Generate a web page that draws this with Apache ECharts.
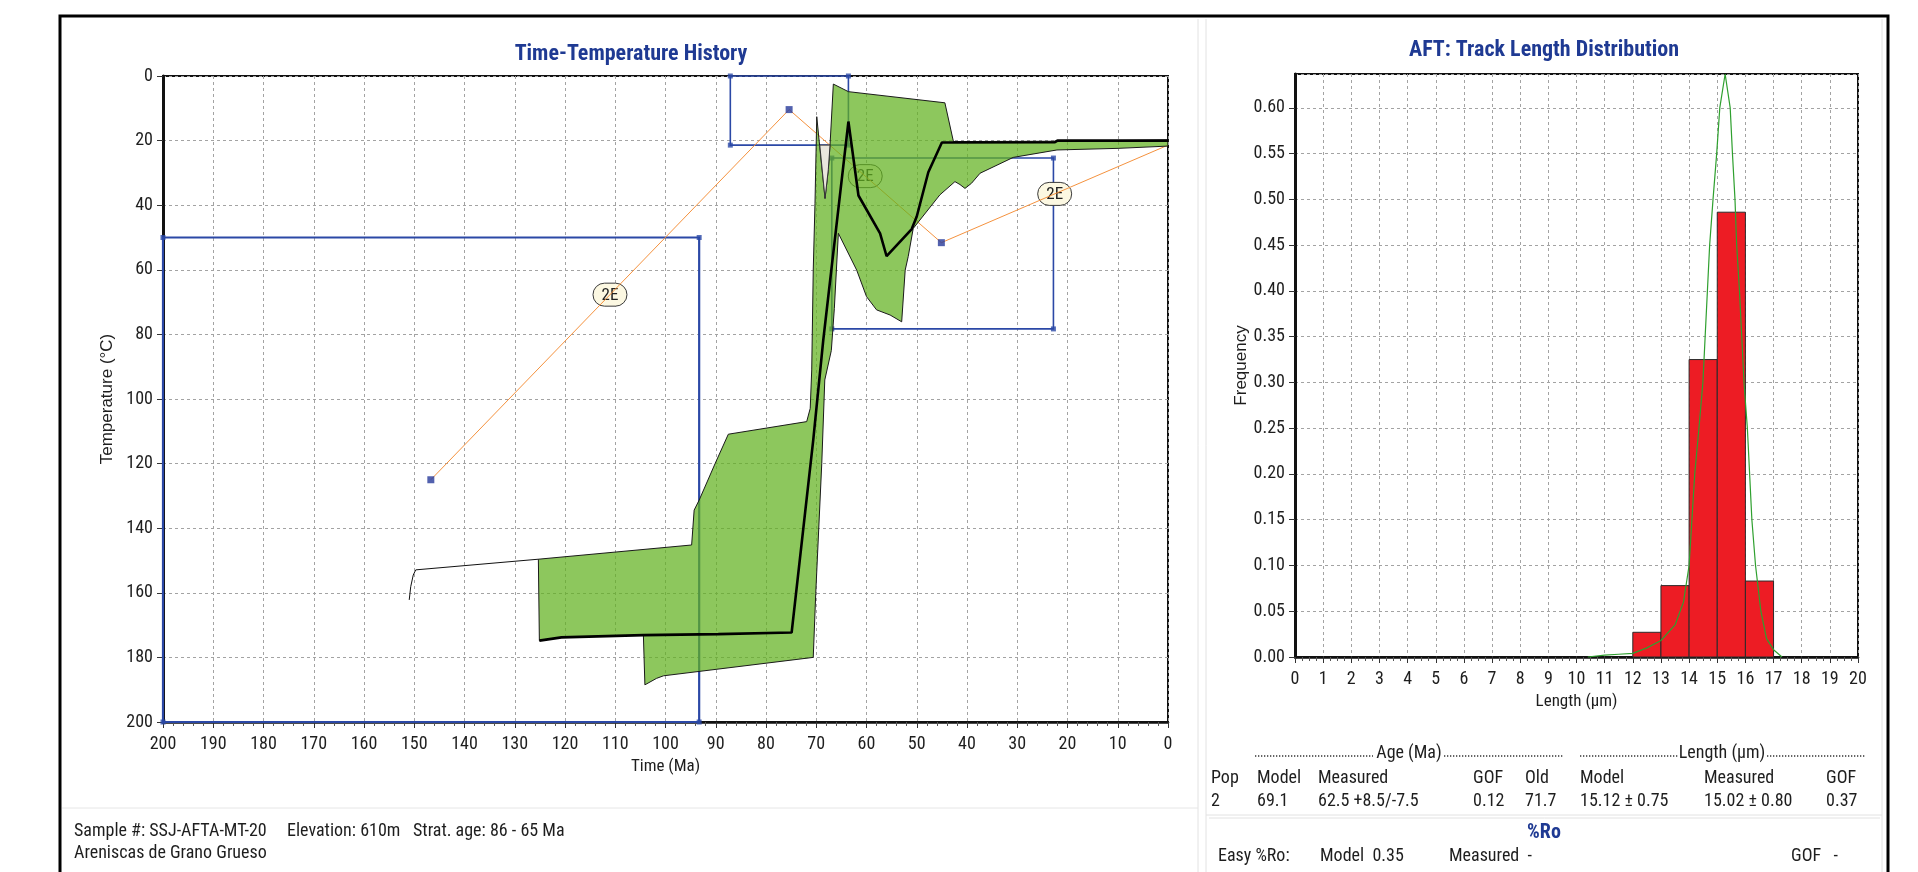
<!DOCTYPE html>
<html><head><meta charset="utf-8">
<script src="https://cdn.jsdelivr.net/npm/echarts@6/dist/echarts.min.js"></script>
<style>html,body{margin:0;padding:0;background:#fff}#c{width:1918px;height:872px}</style>
</head><body><div id="c"></div>
<script>
// ---------------- Time-Temperature History ----------------
// best-fit path (thick black)
const bestTime = [125.1, 120.7, 104.4, 89.5, 74.9, 70.6, 68.6, 63.6, 61.6, 57.3, 56.0, 51.0, 50.0, 47.7, 45.0, 22.5, 22.0, 0];
const bestTemp = [174.8, 173.8, 173.1, 172.8, 172.3, 112.7, 81.7, 14.1, 37.0, 48.7, 55.8, 47.4, 43.5, 29.8, 20.6, 20.5, 20.0, 20.0];
// early thin path
const earlyTime = [151.0, 150.7, 150.2, 149.7, 125.3];
const earlyTemp = [162.2, 158.1, 154.5, 152.9, 149.6];
// acceptable envelope outline (cool edge left->right, hot edge right->left)
const envTime = [125.3, 94.8, 94.3, 93.3, 90.1, 87.5, 71.9, 71.2, 70.9, 70.6, 70.25, 69.9, 69.3, 68.25, 67.6, 67.26, 66.6, 63.6, 44.4, 42.7, 22.5, 0,
                 0, 9.9, 22.1, 30.8, 37.4, 39.1, 40.4, 41.4, 42.4, 45.4, 50.7, 51.7, 52.3, 53.0, 55.3, 58.0, 60.0, 61.95, 65.6, 66.4, 67.0, 68.3, 68.9, 70.1, 70.6, 100.4, 101.8, 104.1, 104.4, 120.7, 125.1];
const envTemp = [149.6, 145.2, 134.4, 131.3, 119.9, 110.9, 107.0, 102.9, 91.0, 60.1, 39.4, 12.6, 22.0, 37.9, 29.0, 21.4, 2.5, 4.85, 8.3, 20.3, 20.2, 19.8,
                 21.7, 22.4, 22.9, 25.2, 30.1, 33.2, 34.8, 33.6, 32.7, 36.8, 47.2, 55.9, 60.1, 76.1, 74.0, 72.4, 68.3, 60.1, 48.7, 72.0, 85.0, 94.1, 119.9, 160.2, 180.0, 185.7, 186.5, 188.5, 173.1, 173.8, 174.8];
// grey notch inside the envelope
const notchTime = [69.3, 68.25, 67.6, 67.26];
const notchTemp = [21.4, 37.9, 29.0, 21.4];
// constraint boxes
const boxTimeOld = [200, 87.1, 66.9];
const boxTimeYoung = [93.3, 63.6, 22.8];
const boxTempLow = [50, 0, 25.4];
const boxTempHigh = [200, 21.4, 78.3];
// constraint path (orange)
const conTime = [146.7, 75.4, 45.1, 0];
const conTemp = [125.0, 10.4, 51.6, 21.4];
const conLabels = ['2E', '2E', '2E'];

// ---------------- AFT track length distribution ----------------
const binLeft = [12, 13, 14, 15, 16];
const binRight = [13, 14, 15, 16, 17];
const binFreq = [0.027, 0.078, 0.325, 0.486, 0.083];
const pdfLen = [10.4, 11.0, 11.5, 12.0, 12.5, 13.0, 13.5, 13.8, 14.0, 14.1, 14.2, 14.35, 14.49, 14.57, 14.65, 14.73, 14.85, 14.98, 15.09, 15.28, 15.46, 15.54, 15.63, 15.69, 15.79, 15.87, 15.95, 16.07, 16.15, 16.23, 16.36, 16.55, 16.75, 17.0, 17.3];
const pdfFreq = [0, 0.002, 0.003, 0.004, 0.010, 0.018, 0.035, 0.060, 0.10, 0.15, 0.20, 0.25, 0.30, 0.35, 0.40, 0.45, 0.50, 0.55, 0.60, 0.637, 0.60, 0.55, 0.50, 0.45, 0.40, 0.35, 0.30, 0.25, 0.20, 0.15, 0.10, 0.05, 0.02, 0.008, 0];

// ---------------- texts ----------------
const titles = ['Time-Temperature History', 'AFT: Track Length Distribution'];
const sampleLine = ['Sample #: SSJ-AFTA-MT-20', 'Elevation: 610m', 'Strat. age: 86 - 65 Ma'];
const lithology = 'Areniscas de Grano Grueso';
const tableGroups = ['Age (Ma)', 'Length (µm)'];
const tableHead = ['Pop', 'Model', 'Measured', 'GOF', 'Old', 'Model', 'Measured', 'GOF'];
const tableRow = ['2', '69.1', '62.5 +8.5/-7.5', '0.12', '71.7', '15.12 ± 0.75', '15.02 ± 0.80', '0.37'];
const roTitle = '%Ro';
const roRow = ['Easy %Ro:', 'Model  0.35', 'Measured  -', 'GOF   -'];

// pick a narrow font if one is installed, otherwise compress Liberation Sans
function pickFont() {
  const ctx = document.createElement('canvas').getContext('2d');
  const s = 'Sample #: SSJ-AFTA-MT-20 Measured 0.123456789';
  const w = f => { ctx.font = f; return ctx.measureText(s).width; };
  const mono = w('40px monospace');
  const arial = w("40px 'Liberation Sans', monospace");
  const target = arial * 0.82;
  const cands = [["'Liberation Sans Narrow'", ''], ["'Arial Narrow'", ''], ["'Roboto Condensed'", ''],
    ["'Open Sans Condensed'", ''], ["'DejaVu Sans Condensed'", ''], ["'Noto Sans'", 'condensed'],
    ["'Open Sans'", 'condensed'], ["'Liberation Sans'", 'condensed'], ["'DejaVu Sans'", 'condensed']];
  for (const [fam, st] of cands) {
    const ww = w((st ? st + ' ' : '') + '40px ' + fam + ', monospace');
    if (ww !== mono && Math.abs(ww / target - 1) < 0.07) return {family: fam, style: st, k: 1, sx: 1};
  }
  return {family: "'Liberation Sans'", style: '', k: 0.86, sx: 0.82};
}
const F = pickFont();
const REG = "'Liberation Sans',Arial,sans-serif";
const BLUE = '#2B48A6';
const TXT = '#1e1e1e';
const TITLE = '#1F3A93';
function tfont(size, bold) { return [F.style, bold ? 'bold' : '', size + 'px', F.family].filter(Boolean).join(' '); }
function gtext(x, y, text, size, opts) {
  opts = opts || {};
  return {type: 'text', x: x, y: y, scaleX: F.sx, z: 50,
    style: {text: text, font: tfont(size, opts.bold), fill: opts.color || TXT, align: opts.align || 'left', verticalAlign: 'middle'}};
}

const chart = echarts.init(document.getElementById('c'), null, {renderer: 'canvas'});

const boxCorners = [];
boxTimeOld.forEach((t0, i) => {
  const t1 = boxTimeYoung[i], a = boxTempLow[i], b = boxTempHigh[i];
  boxCorners.push([t0, a], [t1, a], [t1, b], [t0, b]);
});
const conMid = conLabels.map((s, i) => [(conTime[i] + conTime[i + 1]) / 2, (conTemp[i] + conTemp[i + 1]) / 2, s]);

function polyItem(times, temps, style) {
  return function (params, api) {
    const pts = times.map((t, i) => api.coord([t, temps[i]]));
    return {type: 'polygon', shape: {points: pts}, style: style};
  };
}

const colX = [1211, 1257, 1318, 1473, 1525, 1580, 1704, 1826];
const roX = [1218, 1320, 1449, 1791];
const dots = {stroke: '#333', lineWidth: 1.3, lineDash: [1.3, 1.7]};
const graphics = [
  {type: 'rect', shape: {x: 60, y: 16, width: 1828, height: 900}, style: {fill: 'none', stroke: '#000', lineWidth: 3}, z: 100},
  {type: 'line', shape: {x1: 1198, y1: 19, x2: 1198, y2: 872}, style: {stroke: '#e2e2e2', lineWidth: 1}},
  {type: 'line', shape: {x1: 1206, y1: 19, x2: 1206, y2: 872}, style: {stroke: '#e2e2e2', lineWidth: 1}},
  {type: 'line', shape: {x1: 1882, y1: 19, x2: 1882, y2: 872}, style: {stroke: '#e2e2e2', lineWidth: 1}},
  {type: 'line', shape: {x1: 62, y1: 808, x2: 1198, y2: 808}, style: {stroke: '#e6e6e6', lineWidth: 1}},
  {type: 'line', shape: {x1: 1206, y1: 815, x2: 1882, y2: 815}, style: {stroke: '#e2e2e2', lineWidth: 1}},
  {type: 'line', shape: {x1: 1209, y1: 818, x2: 1880, y2: 818}, style: {stroke: '#e2e2e2', lineWidth: 1}},
  gtext(631, 54, titles[0], 22, {bold: true, color: TITLE, align: 'center'}),
  gtext(1544, 50, titles[1], 22, {bold: true, color: TITLE, align: 'center'}),
  gtext(74, 831, sampleLine[0], 18),
  gtext(287, 831, sampleLine[1], 18),
  gtext(413, 831, sampleLine[2], 18),
  gtext(74, 853, lithology, 18),
  {type: 'line', shape: {x1: 1255, y1: 756, x2: 1373, y2: 756}, style: dots},
  {type: 'line', shape: {x1: 1444, y1: 756, x2: 1564, y2: 756}, style: dots},
  {type: 'line', shape: {x1: 1580, y1: 756, x2: 1678, y2: 756}, style: dots},
  {type: 'line', shape: {x1: 1767, y1: 756, x2: 1865, y2: 756}, style: dots},
  gtext(1409, 753, tableGroups[0], 18, {align: 'center'}),
  gtext(1722, 753, tableGroups[1], 18, {align: 'center'}),
  gtext(1544, 833, roTitle, 20, {bold: true, color: TITLE, align: 'center'})
];
tableHead.forEach((s, i) => graphics.push(gtext(colX[i], 778, s, 18)));
tableRow.forEach((s, i) => graphics.push(gtext(colX[i], 801, s, 18)));
roRow.forEach((s, i) => graphics.push(gtext(roX[i], 856, s, 18)));

const gridLine = {show: true, lineStyle: {type: [3, 3], color: '#a3a3a3', width: 1}};
const axLabel = {fontFamily: F.family, fontStyle: F.style || 'normal', fontSize: 18 * F.k, color: TXT};
const nameNarrow = {fontFamily: F.family, fontStyle: F.style || 'normal', fontSize: 17 * F.k, color: TXT};
const nameReg = {fontFamily: REG, fontSize: 17, color: TXT};

const option = {
  animation: false,
  backgroundColor: '#fff',
  grid: [
    {left: 163, top: 76, width: 1005, height: 646, show: true, borderColor: '#111', borderWidth: 2, backgroundColor: '#fff'},
    {left: 1295, top: 74, width: 563, height: 583, show: true, borderColor: '#111', borderWidth: 2, backgroundColor: '#fff'}
  ],
  xAxis: [
    {gridIndex: 0, type: 'value', min: 0, max: 200, interval: 10, inverse: true,
     name: 'Time (Ma)', nameLocation: 'middle', nameGap: 36, nameTextStyle: nameNarrow,
     axisLine: {onZero: false, lineStyle: {color: '#111', width: 2.5}},
     axisTick: {show: true, length: 6, lineStyle: {color: '#333'}},
     minorTick: {show: true, splitNumber: 5, length: 4, lineStyle: {color: '#555'}},
     axisLabel: Object.assign({margin: 13}, axLabel), splitLine: gridLine},
    {gridIndex: 1, type: 'value', min: 0, max: 20, interval: 1,
     name: 'Length (µm)', nameLocation: 'middle', nameGap: 34, nameTextStyle: nameNarrow,
     axisLine: {onZero: false, lineStyle: {color: '#111', width: 2.5}},
     axisTick: {show: true, length: 6, lineStyle: {color: '#333'}},
     minorTick: {show: true, splitNumber: 4, length: 4, lineStyle: {color: '#555'}},
     axisLabel: Object.assign({margin: 13}, axLabel), splitLine: gridLine}
  ],
  yAxis: [
    {gridIndex: 0, type: 'value', min: 0, max: 200, interval: 20, inverse: true,
     name: 'Temperature (°C)', nameLocation: 'middle', nameGap: 39, nameTextStyle: nameReg,
     axisLine: {onZero: false, lineStyle: {color: '#111', width: 3}},
     axisTick: {show: true, length: 6, lineStyle: {color: '#333'}},
     axisLabel: Object.assign({margin: 10}, axLabel), splitLine: gridLine},
    {gridIndex: 1, type: 'value', min: 0, max: 0.637, interval: 0.05,
     name: 'Frequency', nameLocation: 'middle', nameGap: 43, nameTextStyle: nameReg,
     axisLine: {onZero: false, lineStyle: {color: '#111', width: 3}},
     axisTick: {show: true, length: 6, lineStyle: {color: '#333'}},
     axisLabel: Object.assign({margin: 10, showMaxLabel: false, formatter: v => v.toFixed(2)}, axLabel),
     splitLine: gridLine}
  ],
  graphic: graphics,
  series: [
    // constraint boxes
    {type: 'custom', xAxisIndex: 0, yAxisIndex: 0, z: 2, silent: true,
     data: boxTimeOld.map((t, i) => [t, boxTimeYoung[i], boxTempLow[i], boxTempHigh[i]]),
     renderItem: (p, api) => {
       const a = api.coord([api.value(0), api.value(2)]);
       const b = api.coord([api.value(1), api.value(3)]);
       return {type: 'rect', shape: {x: a[0], y: a[1], width: b[0] - a[0], height: b[1] - a[1]},
               style: {fill: 'none', stroke: BLUE, lineWidth: p.dataIndex === 0 ? 2.2 : 1.6}};
     }},
    {type: 'scatter', xAxisIndex: 0, yAxisIndex: 0, z: 2, silent: true, clip: false,
     symbol: 'rect', symbolSize: 5, itemStyle: {color: BLUE}, data: boxCorners},
    // constraint path
    {type: 'line', xAxisIndex: 0, yAxisIndex: 0, z: 2, silent: true, symbol: 'none',
     lineStyle: {color: '#F5923E', width: 1}, data: conTime.map((t, i) => [t, conTemp[i]])},
    {type: 'scatter', xAxisIndex: 0, yAxisIndex: 0, z: 2, silent: true, symbol: 'rect', symbolSize: 7,
     itemStyle: {color: '#27399A'}, data: conTime.slice(0, 3).map((t, i) => [t, conTemp[i]])},
    {type: 'custom', xAxisIndex: 0, yAxisIndex: 0, z: 2, silent: true, data: conMid,
     renderItem: (p, api) => {
       const c = api.coord([api.value(0), api.value(1)]);
       return {type: 'group', children: [
         {type: 'rect', shape: {x: c[0] - 17, y: c[1] - 11.5, width: 34, height: 23, r: 11.5},
          style: {fill: '#FCF8E2', stroke: '#3a3a3a', lineWidth: 1}},
         {type: 'text', x: c[0], y: c[1] + 1, scaleX: F.sx, style: {text: conMid[p.dataIndex][2], font: tfont(17),
          fill: '#222', align: 'center', verticalAlign: 'middle'}}
       ]};
     }},
    // envelope
    {type: 'custom', xAxisIndex: 0, yAxisIndex: 0, z: 3, silent: true, clip: true, data: [[envTime[0], envTemp[0]]],
     renderItem: polyItem(envTime, envTemp, {fill: 'rgba(97,177,31,0.72)', stroke: '#1a1a1a', lineWidth: 1})},
    {type: 'custom', xAxisIndex: 0, yAxisIndex: 0, z: 3, silent: true, clip: true, data: [[notchTime[0], notchTemp[0]]],
     renderItem: polyItem(notchTime, notchTemp, {fill: '#E9E6DD', stroke: '#333', lineWidth: 1})},
    // paths
    {type: 'line', xAxisIndex: 0, yAxisIndex: 0, z: 5, silent: true, symbol: 'none',
     lineStyle: {color: '#111', width: 1}, data: earlyTime.map((t, i) => [t, earlyTemp[i]])},
    {type: 'line', xAxisIndex: 0, yAxisIndex: 0, z: 5, silent: true, symbol: 'none',
     lineStyle: {color: '#000', width: 2.6}, data: bestTime.map((t, i) => [t, bestTemp[i]])},
    // histogram
    {type: 'custom', xAxisIndex: 1, yAxisIndex: 1, z: 2, silent: true,
     data: binLeft.map((l, i) => [l, binRight[i], binFreq[i]]),
     encode: {x: [0, 1], y: 2},
     renderItem: (p, api) => {
       const a = api.coord([api.value(0), api.value(2)]);
       const b = api.coord([api.value(1), 0]);
       return {type: 'rect', shape: {x: a[0], y: a[1], width: b[0] - a[0], height: b[1] - a[1]},
               style: {fill: '#ED1C24', stroke: '#2b2b2b', lineWidth: 1}};
     }},
    {type: 'line', xAxisIndex: 1, yAxisIndex: 1, z: 4, silent: true, symbol: 'none', clip: false,
     lineStyle: {color: '#2FA02F', width: 1.2}, data: pdfLen.map((l, i) => [l, pdfFreq[i]])}
  ]
};
chart.setOption(option);
</script></body></html>
